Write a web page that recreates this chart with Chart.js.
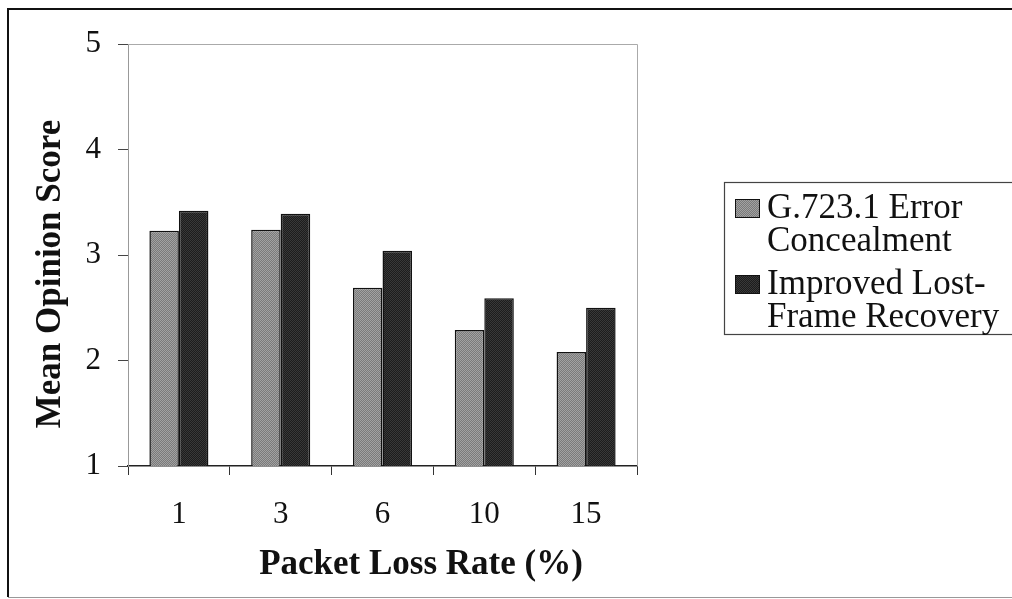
<!DOCTYPE html>
<html>
<head>
<meta charset="utf-8">
<script src="https://cdn.jsdelivr.net/npm/chart.js@4"></script>
<style>
  html, body { margin: 0; padding: 0; background: #fff; }
  canvas { display: block; }
</style>
</head>
<body>
<canvas id="c" width="1012" height="599"></canvas>
<script>
// ---- data ----
const categories = ['1', '3', '6', '10', '15'];
const g7231Values = [3.23, 3.24, 2.69, 2.29, 2.08];
const improvedValues = [3.42, 3.39, 3.04, 2.59, 2.50];
const seriesLabelLines = [['G.723.1 Error', 'Concealment'], ['Improved Lost-', 'Frame Recovery']];
const yTicks = [1, 2, 3, 4, 5];
const xTitle = 'Packet Loss Rate (%)';
const yTitle = 'Mean Opinion Score';

const SERIF = '"Liberation Serif", "Times New Roman", serif';

function makePattern(c1, c2) {
  const p = document.createElement('canvas');
  p.width = 2; p.height = 2;
  const g = p.getContext('2d');
  g.fillStyle = c1; g.fillRect(0, 0, 2, 2);
  g.fillStyle = c2; g.fillRect(0, 0, 1, 1); g.fillRect(1, 1, 1, 1);
  return g.createPattern(p, 'repeat');
}
const ctxMain = document.getElementById('c').getContext('2d');
const grayFill = makePattern('#7a7a7a', '#a2a2a2');
const darkFill = makePattern('#1c1c1c', '#383838');

const framePlugin = {
  id: 'frame',
  beforeDraw(chart) {
    const c = chart.ctx;
    c.save();
    c.fillStyle = '#fff';
    c.fillRect(0, 0, chart.width, chart.height);
    c.strokeStyle = '#111';
    c.lineWidth = 2;
    c.beginPath();
    c.moveTo(1012, 9); c.lineTo(8, 9); c.lineTo(8, 597);
    c.stroke();
    c.strokeStyle = '#999';
    c.lineWidth = 1;
    c.beginPath();
    c.moveTo(8, 597.5); c.lineTo(1012, 597.5);
    c.stroke();
    c.restore();
  },
  afterDraw(chart) {
    const c = chart.ctx;
    const a = chart.chartArea;
    c.save();
    c.strokeStyle = '#aaa';
    c.lineWidth = 1;
    c.beginPath();
    c.moveTo(a.left, a.top + 0.5); c.lineTo(a.right + 0.5, a.top + 0.5); c.lineTo(a.right + 0.5, a.bottom);
    c.stroke();

    // axis titles
    c.fillStyle = '#111';
    c.font = 'bold 35px ' + SERIF;
    c.textAlign = 'center';
    c.textBaseline = 'alphabetic';
    c.fillText(xTitle, 421, 574);
    c.save();
    c.translate(60, 274);
    c.rotate(-Math.PI / 2);
    c.fillText(yTitle, 0, 0);
    c.restore();

    // legend
    c.strokeStyle = '#444';
    c.lineWidth = 1.2;
    c.strokeRect(724.5, 182.5, 400, 152);
    c.font = '35px ' + SERIF;
    c.textAlign = 'left';
    const baselines = [[218, 251], [294, 327]];
    chart.data.datasets.forEach((ds, i) => {
      const b0 = baselines[i][0];
      c.fillStyle = ds.backgroundColor;
      c.fillRect(735, b0 - 19, 25, 19);
      c.strokeStyle = '#111';
      c.lineWidth = 1;
      c.strokeRect(735.5, b0 - 18.5, 24, 18);
      c.fillStyle = '#111';
      seriesLabelLines[i].forEach((t, j) => c.fillText(t, 767, baselines[i][j]));
    });
    c.restore();
  }
};

new Chart(ctxMain, {
  type: 'bar',
  data: {
    labels: categories,
    datasets: [
      { label: seriesLabelLines[0].join(' '), data: g7231Values, backgroundColor: grayFill,
        borderColor: '#111', borderWidth: 1.5, categoryPercentage: 0.58, barPercentage: 1.0 },
      { label: seriesLabelLines[1].join(' '), data: improvedValues, backgroundColor: darkFill,
        borderColor: '#111', borderWidth: 1.5, categoryPercentage: 0.58, barPercentage: 1.0 }
    ]
  },
  options: {
    responsive: false,
    devicePixelRatio: 1,
    animation: false,
    layout: { padding: { left: 0, top: 44, right: 375, bottom: 0 } },
    plugins: { legend: { display: false }, tooltip: { enabled: false } },
    scales: {
      x: {
        afterFit(s) { s.height = 133; },
        border: { display: true, color: '#222', width: 1.5 },
        grid: { display: true, drawOnChartArea: false, drawTicks: true, tickLength: 9, color: '#333', offset: true },
        ticks: { color: '#111', padding: 21, font: { family: SERIF, size: 31 } },
        title: { display: false }
      },
      y: {
        min: yTicks[0], max: yTicks[yTicks.length - 1],
        afterFit(s) { s.width = 128; },
        afterBuildTicks(s) { s.ticks = yTicks.map(v => ({ value: v })); },
        border: { display: true, color: '#999', width: 1, dash: [4, 2] },
        grid: { display: true, drawOnChartArea: false, drawTicks: true, tickLength: 10, color: '#444' },
        ticks: { color: '#111', padding: 17, font: { family: SERIF, size: 31 } },
        title: { display: false }
      }
    }
  },
  plugins: [framePlugin]
});
</script>
</body>
</html>
